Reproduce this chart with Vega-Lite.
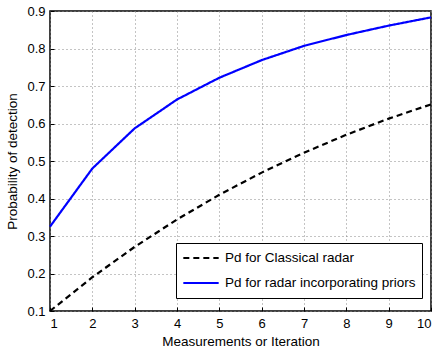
{
  "$schema": "https://vega.github.io/schema/vega-lite/v6.json",
  "autosize": "none",
  "width": 381,
  "height": 300,
  "padding": {"left": 50, "top": 11, "right": 9, "bottom": 41},
  "background": "white",
  "config": {
    "font": "Liberation Sans",
    "view": {"stroke": "black", "strokeWidth": 1.5},
    "axis": {
      "domain": false,
      "gridColor": "#888",
      "gridDash": [1, 3],
      "gridWidth": 1,
      "gridOpacity": 1,
      "tickColor": "black",
      "tickSize": -4,
      "labelFont": "Liberation Sans",
      "labelFontSize": 13,
      "labelColor": "black",
      "titleFont": "Liberation Sans",
      "titleFontSize": 13.5,
      "titleFontWeight": "normal",
      "titleColor": "black"
    }
  },
  "data": {
    "values": [
      {"x": 1, "p": 0.100, "series": "Pd for Classical radar"},
      {"x": 2, "p": 0.190, "series": "Pd for Classical radar"},
      {"x": 3, "p": 0.271, "series": "Pd for Classical radar"},
      {"x": 4, "p": 0.344, "series": "Pd for Classical radar"},
      {"x": 5, "p": 0.410, "series": "Pd for Classical radar"},
      {"x": 6, "p": 0.469, "series": "Pd for Classical radar"},
      {"x": 7, "p": 0.522, "series": "Pd for Classical radar"},
      {"x": 8, "p": 0.570, "series": "Pd for Classical radar"},
      {"x": 9, "p": 0.613, "series": "Pd for Classical radar"},
      {"x": 10, "p": 0.651, "series": "Pd for Classical radar"},
      {"x": 1, "p": 0.325, "series": "Pd for radar incorporating priors"},
      {"x": 2, "p": 0.480, "series": "Pd for radar incorporating priors"},
      {"x": 3, "p": 0.587, "series": "Pd for radar incorporating priors"},
      {"x": 4, "p": 0.664, "series": "Pd for radar incorporating priors"},
      {"x": 5, "p": 0.722, "series": "Pd for radar incorporating priors"},
      {"x": 6, "p": 0.769, "series": "Pd for radar incorporating priors"},
      {"x": 7, "p": 0.807, "series": "Pd for radar incorporating priors"},
      {"x": 8, "p": 0.836, "series": "Pd for radar incorporating priors"},
      {"x": 9, "p": 0.861, "series": "Pd for radar incorporating priors"},
      {"x": 10, "p": 0.883, "series": "Pd for radar incorporating priors"}
    ]
  },
  "mark": {"type": "line", "strokeWidth": 2.2},
  "encoding": {
    "x": {
      "field": "x",
      "type": "quantitative",
      "scale": {"domain": [1, 10], "nice": false},
      "axis": {"values": [1,2,3,4,5,6,7,8,9,10], "title": "Measurements or Iteration", "labelPadding": 10, "titlePadding": 4}
    },
    "y": {
      "field": "p",
      "type": "quantitative",
      "scale": {"domain": [0.1, 0.9], "nice": false, "zero": false},
      "axis": {"values": [0.1,0.2,0.3,0.4,0.5,0.6,0.7,0.8,0.9], "format": ".1f", "title": "Probability of detection", "labelPadding": 9, "titlePadding": 7}
    },
    "color": {
      "field": "series",
      "type": "nominal",
      "scale": {"domain": ["Pd for Classical radar", "Pd for radar incorporating priors"], "range": ["black", "#0000ff"]},
      "legend": {
        "title": null,
        "orient": "none",
        "legendX": 126,
        "legendY": 232,
        "direction": "vertical",
        "fillColor": "white",
        "strokeColor": "black",
        "padding": 6,
        "symbolType": "stroke",
        "symbolSize": 1250,
        "symbolStrokeWidth": 2.2,
        "clipHeight": 18,
        "rowPadding": 7,
        "labelFontSize": 13.5,
        "labelFont": "Liberation Sans",
        "labelColor": "black",
        "labelOffset": 5,
        "labelLimit": 300
      }
    },
    "strokeDash": {
      "field": "series",
      "type": "nominal",
      "scale": {"domain": ["Pd for Classical radar", "Pd for radar incorporating priors"], "range": [[6, 4], [1, 0]]},
      "legend": null
    }
  }
}
